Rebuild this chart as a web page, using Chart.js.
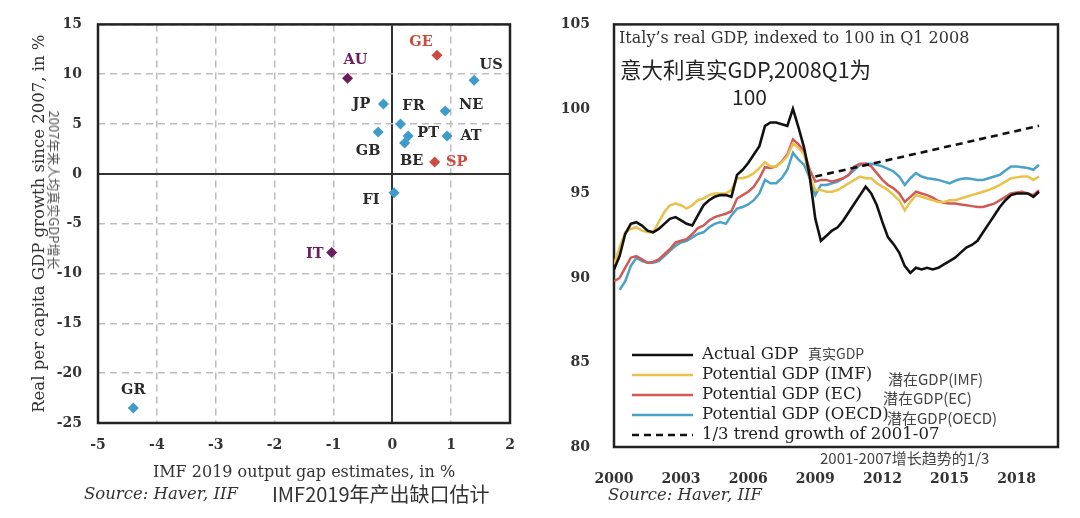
<!DOCTYPE html>
<html><head><meta charset="utf-8">
<script src="https://cdn.jsdelivr.net/npm/chart.js@4.4.0/dist/chart.umd.min.js"></script>
<style>
html,body{margin:0;padding:0;background:#fff;width:1080px;height:518px;overflow:hidden;}
body{position:relative;}
canvas{position:absolute;top:0;}
#c1{left:0}#c2{left:540px}
.t{position:absolute;white-space:nowrap;color:#2a2a2a;}
.serif{font-family:"DejaVu Serif",serif;}
.cjk{font-family:"Noto Sans CJK SC",sans-serif;}
</style></head><body>
<canvas id="c1" width="540" height="518"></canvas>
<canvas id="c2" width="540" height="518"></canvas>

<div class="t cjk" style="left:54px;top:190px;font-size:13px;line-height:14px;color:#555;transform:translate(-50%,-50%) rotate(90deg);">2007年来人均真实GDP增长</div>
<div class="t serif" style="left:84px;top:484px;font-size:16.5px;line-height:20px;font-style:italic;color:#333">Source: Haver, IIF</div>
<div class="t cjk" style="left:272px;top:481px;font-size:20px;line-height:25px;color:#333">IMF2019年产出缺口估计</div>

<div class="t serif" style="left:619px;top:28px;font-size:16px;line-height:20px;color:#333">Italy’s real GDP, indexed to 100 in Q1 2008</div>
<div class="t cjk" style="left:620px;top:55px;font-size:21.5px;line-height:27px;color:#222">意大利真实GDP,2008Q1为</div>
<div class="t cjk" style="left:732px;top:83px;font-size:21px;line-height:26px;color:#222">100</div>
<div class="t cjk" style="left:808px;top:344px;font-size:14px;line-height:18px;color:#444">真实GDP</div>
<div class="t cjk" style="left:888px;top:370px;font-size:15px;line-height:18px;color:#444">潜在GDP(IMF)</div>
<div class="t cjk" style="left:883px;top:389px;font-size:15px;line-height:18px;color:#444">潜在GDP(EC)</div>
<div class="t cjk" style="left:887px;top:409px;font-size:15px;line-height:18px;color:#444">潜在GDP(OECD)</div>
<div class="t cjk" style="left:820px;top:449px;font-size:15px;line-height:18px;color:#444">2001-2007增长趋势的1/3</div>
<div class="t serif" style="left:608px;top:485px;font-size:16.5px;line-height:20px;font-style:italic;color:#333">Source: Haver, IIF</div>

<script>
// ---------- Left chart data ----------
const countries = ['AU','GE','US','JP','FR','NE','GB','PT','AT','BE','SP','FI','IT','GR'];
const outputGap = [-0.76, 0.76, 1.39, -0.15, 0.14, 0.90, -0.24, 0.27, 0.93, 0.21, 0.72, 0.03, -1.03, -4.40];
const growthSince2007 = [9.6, 11.9, 9.4, 7.0, 5.0, 6.3, 4.2, 3.8, 3.8, 3.1, 1.2, -1.9, -7.9, -23.5];
const gapTicks = [-5,-4,-3,-2,-1,0,1,2];
const growthTicks = [-25,-20,-15,-10,-5,0,5,10,15];

// ---------- Right chart data ----------
const actualYears = [2000,2000.25,2000.5,2000.75,2001,2001.25,2001.5,2001.75,2002,2002.25,2002.5,2002.75,2003,2003.25,2003.5,2003.75,2004,2004.25,2004.5,2004.75,2005,2005.25,2005.5,2005.75,2006,2006.25,2006.5,2006.75,2007,2007.25,2007.5,2007.75,2008,2008.25,2008.5,2008.75,2009,2009.25,2009.5,2009.75,2010,2010.25,2010.5,2010.75,2011,2011.25,2011.5,2011.75,2012,2012.25,2012.5,2012.75,2013,2013.25,2013.5,2013.75,2014,2014.25,2014.5,2014.75,2015,2015.25,2015.5,2015.75,2016,2016.25,2016.5,2016.75,2017,2017.25,2017.5,2017.75,2018,2018.25,2018.5,2018.75,2019];
const actualGDP = [90.5,91.3,92.6,93.2,93.3,93.1,92.8,92.7,92.9,93.2,93.5,93.6,93.4,93.2,93.1,93.7,94.3,94.6,94.8,94.9,94.9,94.8,96.1,96.4,96.8,97.3,97.8,99.0,99.2,99.2,99.1,99.0,100.0,98.9,97.7,96.0,93.5,92.2,92.5,92.8,93.0,93.4,93.9,94.4,94.9,95.4,95.0,94.3,93.3,92.4,92.0,91.5,90.7,90.3,90.6,90.5,90.6,90.5,90.6,90.8,91.0,91.2,91.5,91.8,91.95,92.2,92.7,93.2,93.7,94.2,94.6,94.9,95.0,95.0,95.0,94.8,95.1];

const imfYears = actualYears;
const potentialIMF = [90.8,91.8,92.7,92.9,93.0,92.8,92.7,92.7,93.3,93.9,94.3,94.4,94.3,94.1,94.3,94.6,94.7,94.9,95.0,95.0,95.0,95.2,95.9,95.9,96.0,96.2,96.5,96.85,96.6,96.6,96.85,97.2,97.95,97.7,97.3,96.0,95.2,95.2,95.1,95.1,95.2,95.4,95.6,95.8,96.0,95.9,95.9,95.6,95.4,95.2,94.9,94.6,94.0,94.5,94.9,94.8,94.7,94.6,94.5,94.5,94.6,94.6,94.7,94.8,94.9,95.0,95.1,95.2,95.35,95.5,95.7,95.9,95.95,96.0,96.0,95.8,96.0];

const ecYears = actualYears;
const potentialEC = [89.8,90.0,90.6,91.2,91.3,91.1,90.9,90.95,91.1,91.4,91.7,92.1,92.2,92.3,92.6,92.95,93.1,93.4,93.6,93.7,93.8,93.95,94.7,94.9,95.1,95.4,95.9,96.55,96.5,96.6,96.9,97.3,98.2,97.9,97.5,96.4,95.7,95.8,95.8,95.7,95.8,95.9,96.1,96.6,96.75,96.75,96.6,96.2,95.8,95.5,95.3,95.0,94.5,94.8,95.1,95.0,94.9,94.75,94.55,94.45,94.4,94.4,94.35,94.3,94.25,94.2,94.2,94.3,94.4,94.6,94.8,95.0,95.05,95.1,95.0,94.9,95.2];

const oecdYears = actualYears.slice(1);
const potentialOECD = [89.3,89.8,90.7,91.2,91.0,90.9,90.9,91.0,91.3,91.6,91.9,92.1,92.2,92.4,92.6,92.7,93.0,93.2,93.3,93.2,93.7,94.1,94.2,94.35,94.6,95.0,95.8,95.6,95.6,95.9,96.4,97.4,97.0,96.7,95.9,94.9,95.5,95.5,95.6,95.7,95.9,96.1,96.4,96.7,96.75,96.75,96.7,96.6,96.45,96.3,96.0,95.5,95.9,96.2,96.0,95.9,95.85,95.8,95.7,95.6,95.75,95.85,95.9,95.85,95.8,95.8,95.9,96.0,96.1,96.35,96.6,96.6,96.55,96.5,96.4,96.7];

const trendYears = [2009, 2019];
const trendGDP = [96.0, 99.0];

const yearTicks = [2000,2003,2006,2009,2012,2015,2018];
const indexTicks = [80,85,90,95,100,105];

const seriesLabels = ['Actual GDP','Potential GDP (IMF)','Potential GDP (EC)','Potential GDP (OECD)','1/3 trend growth of 2001-07'];

// ---------- Styles ----------
const BLUE = '#3d9ccc', RED = '#cc4a3f', PURPLE = '#6b1d5c';
const pointColor = {AU:PURPLE, IT:PURPLE, GE:RED, SP:RED};
const labelOffset = {AU:[8,-18],GE:[-16,-13],US:[17,-15],JP:[-22,0],FR:[13,-18],NE:[26,-6],PT:[20,-3],AT:[24,0],GB:[-10,19],BE:[7,18],SP:[22,0],FI:[-23,7],IT:[-17,2],GR:[0,-18]};
const SERIF = '"DejaVu Serif", serif';
const tickFont = {family:'DejaVu Serif', size:14, weight:'bold'};

const framePlugin = {
  id:'frame',
  beforeDatasetsDraw(chart){
    const {ctx, chartArea:a} = chart;
    ctx.save();
    ctx.strokeStyle = '#222'; ctx.lineWidth = 2.5;
    ctx.strokeRect(a.left, a.top, a.right-a.left, a.bottom-a.top);
    ctx.restore();
  }
};

const pointLabelPlugin = {
  id:'pointLabels',
  afterDatasetsDraw(chart){
    const ctx = chart.ctx;
    const meta = chart.getDatasetMeta(0);
    ctx.save();
    ctx.textAlign = 'center'; ctx.textBaseline = 'middle';
    meta.data.forEach((pt,i)=>{
      const c = countries[i];
      const off = labelOffset[c] || [0,-15];
      const col = pointColor[c];
      ctx.fillStyle = col || '#2a2a2a';
      ctx.font = 'bold 14.5px ' + SERIF;
      ctx.fillText(c, pt.x + off[0], pt.y + off[1]);
    });
    ctx.restore();
  }
};

new Chart(document.getElementById('c1'), {
  type:'scatter',
  data:{datasets:[{
    data: countries.map((c,i)=>({x:outputGap[i], y:growthSince2007[i]})),
    pointStyle:'rectRot', pointRadius:5.5, pointHoverRadius:5.5,
    pointBackgroundColor: countries.map(c=>pointColor[c]||BLUE),
    pointBorderColor: countries.map(c=>pointColor[c]||BLUE), pointBorderWidth:0
  }]},
  options:{
    responsive:false, animation:false, devicePixelRatio:1,
    layout:{padding:{top:24,right:30,bottom:0,left:0}},
    plugins:{legend:{display:false}, tooltip:{enabled:false}},
    scales:{
      x:{type:'linear', min:-5, max:2,
        afterBuildTicks:s=>{s.ticks = gapTicks.map(v=>({value:v}));},
        afterFit:s=>{s.height = 95;},
        ticks:{padding:14, color:'#333', font:tickFont, callback:v=>String(v)},
        grid:{drawTicks:false, color:c=>c.tick && c.tick.value===0 ? '#333' : '#bdbdbd', lineWidth:c=>c.tick && c.tick.value===0 ? 2 : 1.5},
        border:{display:false, dash:c=>c.tick && c.tick.value===0 ? [] : [7,5]},
        title:{display:true, text:'IMF 2019 output gap estimates, in %', color:'#333', font:{family:'DejaVu Serif', size:16}, padding:{top:0,bottom:36}}
      },
      y:{type:'linear', min:-25, max:15,
        afterBuildTicks:s=>{s.ticks = growthTicks.map(v=>({value:v}));},
        afterFit:s=>{s.width = 98;},
        ticks:{padding:16, color:'#333', font:tickFont, callback:v=>String(v)},
        grid:{drawTicks:false, color:c=>c.tick && c.tick.value===0 ? '#333' : '#bdbdbd', lineWidth:c=>c.tick && c.tick.value===0 ? 2 : 1.5},
        border:{display:false, dash:c=>c.tick && c.tick.value===0 ? [] : [7,5]},
        title:{display:true, text:'Real per capita GDP growth since 2007, in %', color:'#333', font:{family:'DejaVu Serif', size:16.5}, padding:{top:30,bottom:0}}
      }
    }
  },
  plugins:[framePlugin, pointLabelPlugin]
});

// ---------- Right chart ----------
const toXY = (xs, ys)=>xs.map((x,i)=>({x:x, y:ys[i]}));
const legendPlugin = {
  id:'legendBox',
  afterDatasetsDraw(chart){
    const ctx = chart.ctx;
    const rows = [355,375,395,415,435];
    ctx.save();
    chart.data.datasets.forEach((ds,i)=>{
      const y = rows[i];
      ctx.strokeStyle = ds.borderColor; ctx.lineWidth = ds.borderWidth;
      ctx.setLineDash(ds.borderDash || []);
      ctx.beginPath(); ctx.moveTo(92,y); ctx.lineTo(153,y); ctx.stroke();
      ctx.setLineDash([]);
      ctx.fillStyle = '#222'; ctx.font = '16.5px ' + SERIF;
      ctx.textAlign = 'left'; ctx.textBaseline = 'middle';
      ctx.fillText(ds.label, 162, y);
    });
    ctx.restore();
  }
};

new Chart(document.getElementById('c2'), {
  type:'line',
  data:{datasets:[
    {label:seriesLabels[0], data:toXY(actualYears, actualGDP), borderColor:'#111', borderWidth:2.6, order:1},
    {label:seriesLabels[1], data:toXY(imfYears, potentialIMF), borderColor:'#e8c24a', borderWidth:2.5, order:2},
    {label:seriesLabels[2], data:toXY(ecYears, potentialEC), borderColor:'#d05a55', borderWidth:2.5, order:3},
    {label:seriesLabels[3], data:toXY(oecdYears, potentialOECD), borderColor:'#4ba2c8', borderWidth:2.5, order:4},
    {label:seriesLabels[4], data:toXY(trendYears, trendGDP), borderColor:'#111', borderWidth:2.6, borderDash:[7,5], order:0}
  ]},
  options:{
    responsive:false, animation:false, devicePixelRatio:1,
    layout:{padding:{top:24,right:22,bottom:0,left:0}},
    elements:{point:{radius:0, hoverRadius:0}, line:{tension:0, fill:false}},
    plugins:{legend:{display:false}, tooltip:{enabled:false}},
    scales:{
      x:{type:'linear', min:2000, max:2019.85,
        afterBuildTicks:s=>{s.ticks = yearTicks.map(v=>({value:v}));},
        afterFit:s=>{s.height = 71;},
        ticks:{padding:16, color:'#333', font:tickFont, callback:v=>String(v)},
        grid:{display:false}, border:{display:false}
      },
      y:{type:'linear', min:80, max:105,
        afterBuildTicks:s=>{s.ticks = indexTicks.map(v=>({value:v}));},
        afterFit:s=>{s.width = 74;},
        ticks:{padding:16, color:'#333', font:tickFont, callback:v=>String(v)},
        grid:{display:false}, border:{display:false}
      }
    }
  },
  plugins:[framePlugin, legendPlugin]
});
</script>
</body></html>
